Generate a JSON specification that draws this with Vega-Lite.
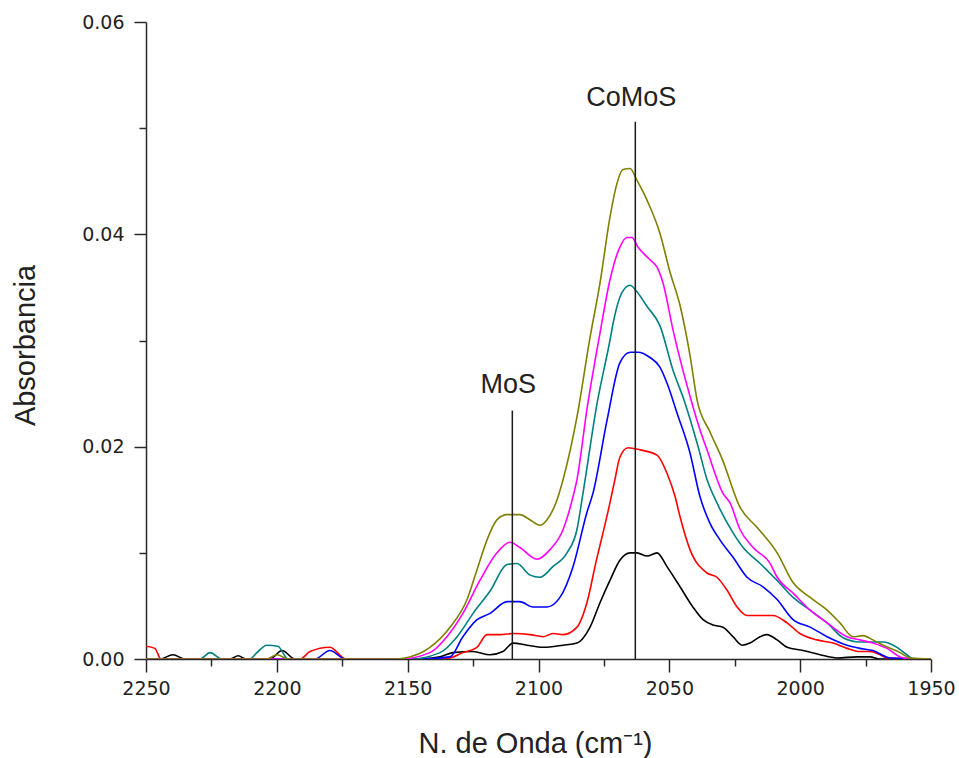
{
  "$schema": "https://vega.github.io/schema/vega-lite/v6.json",
  "width": 785,
  "height": 637,
  "autosize": {"type": "none"},
  "padding": {"left": 146, "top": 22, "right": 28, "bottom": 99},
  "background": "white",
  "config": {
    "view": {"stroke": null},
    "axis": {
      "domainColor": "#2a2a2a",
      "tickColor": "#2a2a2a",
      "labelColor": "#222222",
      "titleColor": "#222222",
      "domainWidth": 1.5,
      "tickWidth": 1.5,
      "grid": false,
      "labelFont": "DejaVu Sans",
      "titleFont": "Liberation Sans",
      "titleFontWeight": "normal"
    }
  },
  "datasets": {
    "curves": [
      {"s":"k","x":2250,"y":0},{"s":"k","x":2244.6,"y":0},{"s":"k","x":2239.7,"y":0.0004},{"s":"k","x":2235.1,"y":0},{"s":"k","x":2217.9,"y":0},{"s":"k","x":2214.8,"y":0.0003},{"s":"k","x":2211.8,"y":0},{"s":"k","x":2202.6,"y":0},{"s":"k","x":2198,"y":0.0008},{"s":"k","x":2193.1,"y":0},{"s":"k","x":2145.3,"y":0},{"s":"k","x":2137.6,"y":0.0002},{"s":"k","x":2132.7,"y":0.0006},{"s":"k","x":2125,"y":0.0007},{"s":"k","x":2118.5,"y":0.0004},{"s":"k","x":2113.6,"y":0.0007},{"s":"k","x":2109.7,"y":0.0015},{"s":"k","x":2104.4,"y":0.0013},{"s":"k","x":2098.3,"y":0.0011},{"s":"k","x":2090.6,"y":0.0013},{"s":"k","x":2085.3,"y":0.0015},{"s":"k","x":2080.3,"y":0.003},{"s":"k","x":2076.5,"y":0.0053},{"s":"k","x":2072.7,"y":0.0074},{"s":"k","x":2068.9,"y":0.0093},{"s":"k","x":2065,"y":0.01},{"s":"k","x":2062.4,"y":0.01},{"s":"k","x":2058.5,"y":0.0097},{"s":"k","x":2054.7,"y":0.01},{"s":"k","x":2050.9,"y":0.0087},{"s":"k","x":2045.9,"y":0.0068},{"s":"k","x":2041,"y":0.0049},{"s":"k","x":2037.1,"y":0.0037},{"s":"k","x":2033.3,"y":0.0032},{"s":"k","x":2029.5,"y":0.003},{"s":"k","x":2025.7,"y":0.0021},{"s":"k","x":2022.2,"y":0.0013},{"s":"k","x":2019.2,"y":0.0015},{"s":"k","x":2015.3,"y":0.0021},{"s":"k","x":2012.7,"y":0.0023},{"s":"k","x":2008.8,"y":0.0018},{"s":"k","x":2005,"y":0.0011},{"s":"k","x":1998.9,"y":0.0008},{"s":"k","x":1992.4,"y":0.0004},{"s":"k","x":1985.9,"y":0.0001},{"s":"k","x":1978.3,"y":0.0002},{"s":"k","x":1973.3,"y":0.0002},{"s":"k","x":1969.5,"y":0},{"s":"k","x":1950,"y":0},
      {"s":"r","x":2250,"y":0.0012},{"s":"r","x":2246.6,"y":0.001},{"s":"r","x":2244.3,"y":0},{"s":"r","x":2191.1,"y":0},{"s":"r","x":2187.3,"y":0.0007},{"s":"r","x":2179.7,"y":0.0011},{"s":"r","x":2173.6,"y":0},{"s":"r","x":2137.6,"y":0},{"s":"r","x":2133.8,"y":0.0001},{"s":"r","x":2128.9,"y":0.0006},{"s":"r","x":2123.5,"y":0.0011},{"s":"r","x":2119.7,"y":0.0023},{"s":"r","x":2114.7,"y":0.0023},{"s":"r","x":2109.7,"y":0.0024},{"s":"r","x":2103.2,"y":0.0023},{"s":"r","x":2098.3,"y":0.0021},{"s":"r","x":2094.5,"y":0.0024},{"s":"r","x":2090.6,"y":0.0023},{"s":"r","x":2085.3,"y":0.003},{"s":"r","x":2081.5,"y":0.0053},{"s":"r","x":2077.6,"y":0.0096},{"s":"r","x":2076.5,"y":0.0107},{"s":"r","x":2072.7,"y":0.0147},{"s":"r","x":2070.8,"y":0.0169},{"s":"r","x":2068.9,"y":0.019},{"s":"r","x":2065.8,"y":0.0199},{"s":"r","x":2061.2,"y":0.0197},{"s":"r","x":2054.7,"y":0.0192},{"s":"r","x":2050.9,"y":0.0175},{"s":"r","x":2047.8,"y":0.0153},{"s":"r","x":2045.9,"y":0.0134},{"s":"r","x":2042.1,"y":0.0103},{"s":"r","x":2035.6,"y":0.0081},{"s":"r","x":2031.8,"y":0.0077},{"s":"r","x":2028,"y":0.0065},{"s":"r","x":2024.1,"y":0.0049},{"s":"r","x":2020.3,"y":0.0041},{"s":"r","x":2015.3,"y":0.0041},{"s":"r","x":2010.4,"y":0.0041},{"s":"r","x":2005,"y":0.0034},{"s":"r","x":2000.1,"y":0.0024},{"s":"r","x":1993.6,"y":0.0018},{"s":"r","x":1987.4,"y":0.0015},{"s":"r","x":1982.1,"y":0.001},{"s":"r","x":1977.1,"y":0.0007},{"s":"r","x":1973.3,"y":0.0007},{"s":"r","x":1969.5,"y":0.0004},{"s":"r","x":1966.8,"y":0.0001},{"s":"r","x":1950,"y":0},
      {"s":"b","x":2250,"y":0},{"s":"b","x":2185.4,"y":0},{"s":"b","x":2179.7,"y":0.0008},{"s":"b","x":2173.9,"y":0},{"s":"b","x":2145.3,"y":0},{"s":"b","x":2133.8,"y":0.0002},{"s":"b","x":2128.9,"y":0.0021},{"s":"b","x":2123.5,"y":0.0037},{"s":"b","x":2118.5,"y":0.0043},{"s":"b","x":2112,"y":0.0054},{"s":"b","x":2107.1,"y":0.0054},{"s":"b","x":2102.1,"y":0.0049},{"s":"b","x":2096.8,"y":0.0049},{"s":"b","x":2091.8,"y":0.0058},{"s":"b","x":2086.8,"y":0.0087},{"s":"b","x":2081.5,"y":0.0138},{"s":"b","x":2079.2,"y":0.0156},{"s":"b","x":2073.8,"y":0.0225},{"s":"b","x":2068.9,"y":0.0279},{"s":"b","x":2065,"y":0.0289},{"s":"b","x":2062,"y":0.0289},{"s":"b","x":2057.4,"y":0.0284},{"s":"b","x":2053.6,"y":0.0275},{"s":"b","x":2050.9,"y":0.026},{"s":"b","x":2047.1,"y":0.0232},{"s":"b","x":2042.1,"y":0.0194},{"s":"b","x":2038.3,"y":0.0153},{"s":"b","x":2034.5,"y":0.0128},{"s":"b","x":2030.6,"y":0.0112},{"s":"b","x":2025.7,"y":0.0096},{"s":"b","x":2020.3,"y":0.0077},{"s":"b","x":2014.2,"y":0.0068},{"s":"b","x":2008.8,"y":0.0056},{"s":"b","x":2002.7,"y":0.0037},{"s":"b","x":1996.2,"y":0.003},{"s":"b","x":1989.7,"y":0.0021},{"s":"b","x":1982.1,"y":0.0013},{"s":"b","x":1977.1,"y":0.001},{"s":"b","x":1972.2,"y":0.0008},{"s":"b","x":1965.7,"y":0.0001},{"s":"b","x":1950,"y":0},
      {"s":"t","x":2250,"y":0},{"s":"t","x":2229.4,"y":0},{"s":"t","x":2225.5,"y":0.0006},{"s":"t","x":2221,"y":0},{"s":"t","x":2210.3,"y":0},{"s":"t","x":2207.6,"y":0.0006},{"s":"t","x":2203.8,"y":0.0013},{"s":"t","x":2199.6,"y":0.0012},{"s":"t","x":2195.7,"y":0},{"s":"t","x":2149.1,"y":0},{"s":"t","x":2137.6,"y":0.0006},{"s":"t","x":2131.1,"y":0.0021},{"s":"t","x":2125,"y":0.0043},{"s":"t","x":2118.5,"y":0.0064},{"s":"t","x":2112,"y":0.0089},{"s":"t","x":2108.2,"y":0.009},{"s":"t","x":2103.2,"y":0.0079},{"s":"t","x":2099.4,"y":0.0077},{"s":"t","x":2094.5,"y":0.0087},{"s":"t","x":2089.1,"y":0.01},{"s":"t","x":2085.3,"y":0.0122},{"s":"t","x":2083,"y":0.0156},{"s":"t","x":2077.6,"y":0.0241},{"s":"t","x":2072.7,"y":0.03},{"s":"t","x":2071.5,"y":0.0316},{"s":"t","x":2068.1,"y":0.0345},{"s":"t","x":2065,"y":0.0352},{"s":"t","x":2062.4,"y":0.0346},{"s":"t","x":2058.5,"y":0.0332},{"s":"t","x":2053.6,"y":0.0314},{"s":"t","x":2048.6,"y":0.0272},{"s":"t","x":2044.4,"y":0.0244},{"s":"t","x":2039,"y":0.02},{"s":"t","x":2035.6,"y":0.0169},{"s":"t","x":2031.8,"y":0.0147},{"s":"t","x":2025.7,"y":0.0119},{"s":"t","x":2021.8,"y":0.0105},{"s":"t","x":2015.3,"y":0.009},{"s":"t","x":2008.8,"y":0.0074},{"s":"t","x":2002.7,"y":0.0058},{"s":"t","x":1996.2,"y":0.0046},{"s":"t","x":1989.7,"y":0.0034},{"s":"t","x":1983.6,"y":0.002},{"s":"t","x":1977.1,"y":0.0016},{"s":"t","x":1968.3,"y":0.0016},{"s":"t","x":1963,"y":0.0011},{"s":"t","x":1959.2,"y":0.0004},{"s":"t","x":1956.9,"y":0},{"s":"t","x":1950,"y":0},
      {"s":"m","x":2250,"y":0},{"s":"m","x":2152.9,"y":0},{"s":"m","x":2141.5,"y":0.0006},{"s":"m","x":2135,"y":0.0021},{"s":"m","x":2128.9,"y":0.0043},{"s":"m","x":2122.4,"y":0.0074},{"s":"m","x":2115.9,"y":0.01},{"s":"m","x":2110.9,"y":0.011},{"s":"m","x":2107.1,"y":0.0105},{"s":"m","x":2100.6,"y":0.0094},{"s":"m","x":2095.6,"y":0.0103},{"s":"m","x":2090.6,"y":0.0122},{"s":"m","x":2086.8,"y":0.0153},{"s":"m","x":2085.3,"y":0.0169},{"s":"m","x":2081.5,"y":0.0235},{"s":"m","x":2076.5,"y":0.0307},{"s":"m","x":2072.7,"y":0.0357},{"s":"m","x":2068.9,"y":0.0388},{"s":"m","x":2066.2,"y":0.0397},{"s":"m","x":2064.3,"y":0.0397},{"s":"m","x":2062,"y":0.0388},{"s":"m","x":2057.4,"y":0.0376},{"s":"m","x":2054.7,"y":0.0369},{"s":"m","x":2052.4,"y":0.0354},{"s":"m","x":2048.6,"y":0.031},{"s":"m","x":2041.7,"y":0.0244},{"s":"m","x":2038.3,"y":0.0216},{"s":"m","x":2035.6,"y":0.0197},{"s":"m","x":2029.5,"y":0.0156},{"s":"m","x":2026.8,"y":0.0147},{"s":"m","x":2023,"y":0.0122},{"s":"m","x":2018,"y":0.0105},{"s":"m","x":2011.5,"y":0.009},{"s":"m","x":2008.8,"y":0.0077},{"s":"m","x":2002.7,"y":0.0062},{"s":"m","x":1996.2,"y":0.0046},{"s":"m","x":1989.7,"y":0.0034},{"s":"m","x":1982.1,"y":0.0021},{"s":"m","x":1977.1,"y":0.0018},{"s":"m","x":1972.2,"y":0.0015},{"s":"m","x":1966.8,"y":0.001},{"s":"m","x":1961.8,"y":0.0002},{"s":"m","x":1958,"y":0},{"s":"m","x":1950,"y":0},
      {"s":"o","x":2250,"y":0},{"s":"o","x":2204.1,"y":0},{"s":"o","x":2199.9,"y":0.0004},{"s":"o","x":2195.7,"y":0},{"s":"o","x":2154.8,"y":0},{"s":"o","x":2151,"y":0.0001},{"s":"o","x":2141.5,"y":0.0011},{"s":"o","x":2133.8,"y":0.003},{"s":"o","x":2127.3,"y":0.0056},{"s":"o","x":2123.5,"y":0.0084},{"s":"o","x":2119.7,"y":0.0112},{"s":"o","x":2115.9,"y":0.0131},{"s":"o","x":2112,"y":0.0136},{"s":"o","x":2107.1,"y":0.0136},{"s":"o","x":2103.2,"y":0.0131},{"s":"o","x":2099.4,"y":0.0126},{"s":"o","x":2096.8,"y":0.0131},{"s":"o","x":2092.9,"y":0.015},{"s":"o","x":2090.6,"y":0.0169},{"s":"o","x":2085.3,"y":0.0228},{"s":"o","x":2080.3,"y":0.0303},{"s":"o","x":2076.5,"y":0.0354},{"s":"o","x":2072.7,"y":0.0416},{"s":"o","x":2070,"y":0.0448},{"s":"o","x":2067.7,"y":0.0461},{"s":"o","x":2065,"y":0.0462},{"s":"o","x":2062.4,"y":0.0451},{"s":"o","x":2058.5,"y":0.0432},{"s":"o","x":2053.6,"y":0.0401},{"s":"o","x":2049.7,"y":0.0364},{"s":"o","x":2045.9,"y":0.0333},{"s":"o","x":2042.1,"y":0.0286},{"s":"o","x":2039.4,"y":0.0244},{"s":"o","x":2034.5,"y":0.0214},{"s":"o","x":2029.9,"y":0.0189},{"s":"o","x":2023,"y":0.0143},{"s":"o","x":2016.5,"y":0.0124},{"s":"o","x":2008.8,"y":0.01},{"s":"o","x":2002.7,"y":0.0072},{"s":"o","x":1996.2,"y":0.0058},{"s":"o","x":1989.7,"y":0.0046},{"s":"o","x":1984.8,"y":0.0034},{"s":"o","x":1979.8,"y":0.0021},{"s":"o","x":1976,"y":0.0022},{"s":"o","x":1972.2,"y":0.0018},{"s":"o","x":1968.3,"y":0.0013},{"s":"o","x":1961.8,"y":0.0006},{"s":"o","x":1958,"y":0.0001},{"s":"o","x":1950,"y":0}
    ],
    "marks": [
      {"x": 2110, "base": 0, "top": 0.0234, "ly": 0.0258, "label": "MoS"},
      {"x": 2063, "base": 0, "top": 0.0506, "ly": 0.0528, "label": "CoMoS"}
    ]
  },
  "layer": [
    {
      "data": {"name": "curves"},
      "mark": {"type": "line", "strokeWidth": 1.6, "interpolate": "monotone", "clip": true},
      "encoding": {
        "x": {
          "field": "x", "type": "quantitative",
          "scale": {"domain": [1950, 2250], "reverse": true, "nice": false, "zero": false},
          "axis": {
            "orient": "bottom",
            "values": [2250, 2200, 2150, 2100, 2050, 2000, 1950],
            "format": "d",
            "tickSize": 13,
            "labelFontSize": 19,
            "labelPadding": 7,
            "labelFlush": false,
            "labelOverlap": false,
            "title": "N. de Onda (cm⁻¹)",
            "titleFontSize": 29,
            "titleX": 389,
            "titleY": 84,
            "titleBaseline": "middle",
            "titleAlign": "center"
          }
        },
        "y": {
          "field": "y", "type": "quantitative",
          "scale": {"domain": [0, 0.06], "nice": false, "zero": false},
          "axis": {
            "orient": "left",
            "values": [0, 0.02, 0.04, 0.06],
            "format": ".2f",
            "tickSize": 12,
            "labelFontSize": 19,
            "labelPadding": 10,
            "labelFlush": false,
            "labelOverlap": false,
            "title": "Absorbancia",
            "titleFontSize": 29,
            "titleAngle": -90,
            "titleX": -121,
            "titleY": 323,
            "titleBaseline": "middle",
            "titleAlign": "center"
          }
        },
        "color": {
          "field": "s", "type": "nominal",
          "scale": {"domain": ["k", "r", "b", "t", "m", "o"], "range": ["#000000", "#ff0000", "#0000ff", "#008080", "#ff00ff", "#808000"]},
          "legend": null
        }
      }
    },
    {
      "data": {"name": "marks"},
      "encoding": {
        "x": {
          "field": "x", "type": "quantitative",
          "axis": {"orient": "bottom", "values": [2225, 2175, 2125, 2075, 2025, 1975], "tickSize": 7, "labels": false, "domain": false, "title": null}
        }
      },
      "layer": [
        {
          "mark": {"type": "rule", "strokeWidth": 1.5, "color": "#1a1a1a"},
          "encoding": {
            "y": {
              "field": "base", "type": "quantitative",
              "axis": {"orient": "left", "values": [0.01, 0.03, 0.05], "tickSize": 7, "labels": false, "domain": false, "title": null}
            },
            "y2": {"field": "top"}
          }
        },
        {
          "mark": {"type": "text", "font": "Liberation Sans", "fontSize": 27, "color": "#222222", "align": "center", "baseline": "middle", "dx": -4},
          "encoding": {
            "y": {
              "field": "ly", "type": "quantitative",
              "axis": {"orient": "left", "values": [0.01, 0.03, 0.05], "tickSize": 7, "labels": false, "domain": false, "title": null}
            },
            "text": {"field": "label"}
          }
        }
      ]
    }
  ],
  "resolve": {"axis": {"x": "independent", "y": "independent"}}
}
